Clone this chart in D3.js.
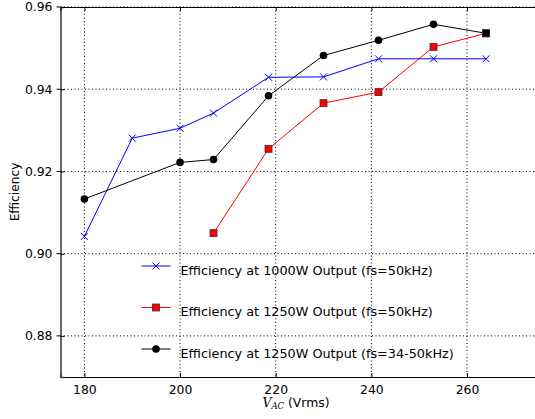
<!DOCTYPE html>
<html>
<head>
<meta charset="utf-8">
<script src="https://cdn.jsdelivr.net/npm/d3@7"></script>
<style>
  body { margin: 0; background: #fff; }
  svg { display: block; font-family: "DejaVu Sans", sans-serif; }
</style>
</head>
<body>
<div id="chart"></div>
<script>
// values
var vac = [180, 190, 200, 207, 218.5, 230, 241.5, 253, 264];
var eff1000 = [0.9042, 0.9281, 0.9305, 0.9342, 0.9429, 0.9430, 0.9474, 0.9474, 0.9474];
var vac1250 = [207, 218.5, 230, 241.5, 253, 264];
var eff1250 = [0.9050, 0.9255, 0.9366, 0.9393, 0.9503, 0.9536];
var eff1250var = [0.9133, 0.9222, 0.9229, 0.9384, 0.9482, 0.9519, 0.9558, 0.9536];
var vac1250var = [180, 200, 207, 218.5, 230, 241.5, 253, 264];
var xTicks = [180, 200, 220, 240, 260];
var yTicks = [0.88, 0.90, 0.92, 0.94, 0.96];
var labels = [
  "Efficiency at 1000W Output (fs=50kHz)",
  "Efficiency at 1250W Output (fs=50kHz)",
  "Efficiency at 1250W Output (fs=34-50kHz)"
];

var width = 535, height = 419;
var mLeft = 60.5, mTop = 7, mBottom = 377;
var pxPerUnit = 4.782;

var svg = d3.select("#chart").append("svg")
    .attr("width", width)
    .attr("height", height);

var x = d3.scaleLinear().domain([175, 280]).range([mLeft, mLeft + 105 * pxPerUnit]);
var y = d3.scaleLinear().domain([0.87, 0.96]).range([mBottom, mTop]);
var mRight = x(280);

//grid
var grid = svg.append("g");
xTicks.forEach(function(t) {
  grid.append("line")
    .attr("x1", x(t)).attr("x2", x(t))
    .attr("y1", mTop).attr("y2", mBottom)
    .attr("stroke", "#000").attr("stroke-width", 1)
    .attr("stroke-dasharray", "1,2.5");
});
yTicks.forEach(function(t) {
  grid.append("line")
    .attr("x1", mLeft).attr("x2", mRight)
    .attr("y1", y(t)).attr("y2", y(t))
    .attr("stroke", "#000").attr("stroke-width", 1)
    .attr("stroke-dasharray", "1,2.5");
});

//axes with inward ticks
var xAxis = svg.append("g")
    .attr("transform", "translate(0," + mBottom + ")")
    .call(d3.axisBottom(x).tickValues(xTicks).tickSize(-4).tickPadding(8).tickFormat(d3.format("d")));
var yAxis = svg.append("g")
    .attr("transform", "translate(" + mLeft + ",0)")
    .call(d3.axisLeft(y).tickValues(yTicks).tickSize(-4).tickPadding(8).tickFormat(d3.format(".2f")));
var xTop = svg.append("g")
    .attr("transform", "translate(0," + mTop + ")")
    .call(d3.axisTop(x).tickValues(xTicks).tickSize(-4).tickFormat(""));
[xAxis, yAxis, xTop].forEach(function(a) {
  a.selectAll("text").attr("font-size", 12.4).attr("fill", "#000")
    .attr("font-family", "DejaVu Sans, sans-serif");
  a.selectAll("line").attr("stroke", "#000");
  a.select(".domain").attr("stroke", "#000");
});
yAxis.select(".domain").attr("stroke", "#444").attr("stroke-width", 1.6);
// small outward ticks on left
yTicks.forEach(function(t) {
  svg.append("line").attr("x1", mLeft - 4).attr("x2", mLeft)
    .attr("y1", y(t)).attr("y2", y(t)).attr("stroke", "#000");
});

//series
var line = d3.line().x(function(d) { return x(d[0]); }).y(function(d) { return y(d[1]); });
var s1 = d3.zip(vac, eff1000);
var s2 = d3.zip(vac1250, eff1250);
var s3 = d3.zip(vac1250var, eff1250var);

var plot = svg.append("g");

function drawX(g, cx, cy) {
  g.append("path")
    .attr("d", "M" + (cx - 3.5) + "," + (cy - 3.5) + "L" + (cx + 3.5) + "," + (cy + 3.5) +
               "M" + (cx - 3.5) + "," + (cy + 3.5) + "L" + (cx + 3.5) + "," + (cy - 3.5))
    .attr("stroke", "#0000ff").attr("stroke-width", 1).attr("fill", "none");
}
function drawSquare(g, cx, cy, fill) {
  g.append("rect")
    .attr("x", cx - 3.5).attr("y", cy - 3.5)
    .attr("width", 7).attr("height", 7)
    .attr("fill", fill).attr("stroke", "#333").attr("stroke-width", 0.8);
}
function drawDot(g, cx, cy) {
  g.append("circle").attr("cx", cx).attr("cy", cy).attr("r", 3.8).attr("fill", "#000");
}

plot.append("path").attr("d", line(s1)).attr("fill", "none").attr("stroke", "#0000ff").attr("stroke-width", 1);
s1.forEach(function(d) { drawX(plot, x(d[0]), y(d[1])); });

plot.append("path").attr("d", line(s2)).attr("fill", "none").attr("stroke", "#ff0000").attr("stroke-width", 1);
s2.forEach(function(d) { drawSquare(plot, x(d[0]), y(d[1]), "#ff0000"); });

plot.append("path").attr("d", line(s3)).attr("fill", "none").attr("stroke", "#000").attr("stroke-width", 1);
s3.forEach(function(d, i) {
  if (i == s3.length - 1) drawSquare(plot, x(d[0]), y(d[1]), "#000");
  else drawDot(plot, x(d[0]), y(d[1]));
});

//legend
var legendY = [266, 307.5, 349];
var legendColors = ["#0000ff", "#ff0000", "#000"];
var legend = svg.append("g");
labels.forEach(function(lab, i) {
  var ly = legendY[i];
  legend.append("line")
    .attr("x1", 141.5).attr("x2", 170.5).attr("y1", ly).attr("y2", ly)
    .attr("stroke", legendColors[i]).attr("stroke-width", 1);
  if (i == 0) drawX(legend, 156, ly);
  else if (i == 1) drawSquare(legend, 156, ly, "#ff0000");
  else drawDot(legend, 156, ly);
  legend.append("text")
    .attr("x", 180.5).attr("y", ly + 8.5)
    .attr("font-size", 12.8).attr("fill", "#000")
    .text(lab);
});

//axis labels
var xl = svg.append("text")
    .attr("x", 296).attr("y", 407)
    .attr("text-anchor", "middle")
    .attr("font-size", 12.4);
xl.append("tspan").attr("font-family", "DejaVu Serif, serif").attr("font-style", "italic").text("V");
xl.append("tspan").attr("font-family", "DejaVu Serif, serif").attr("font-style", "italic")
  .attr("font-size", 8.5).attr("dy", 2).text("AC");
xl.append("tspan").attr("dy", -2).text(" (Vrms)");

svg.append("text")
    .attr("transform", "translate(19," + ((mTop + mBottom) / 2) + ") rotate(-90)")
    .attr("text-anchor", "middle")
    .attr("font-size", 12.2)
    .text("Efficiency");
</script>
</body>
</html>
